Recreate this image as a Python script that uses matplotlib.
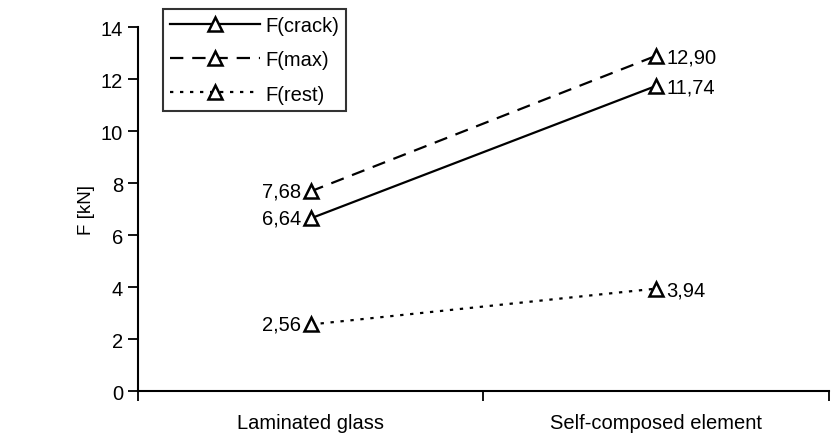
import matplotlib.pyplot as plt

plt.rcParams['font.family'] = ['Liberation Sans', 'DejaVu Sans']

categories = ['Laminated glass', 'Self-composed element']
f_crack = [6.64, 11.74]
f_max = [7.68, 12.90]
f_rest = [2.56, 3.94]

series = [
    ('F(crack)', f_crack, '-'),
    ('F(max)', f_max, (0, (6, 4))),
    ('F(rest)', f_rest, (0, (1.5, 3))),
]

FS = 14.5

fig = plt.figure(figsize=(8.35, 4.39), dpi=100)
ax = fig.add_axes([0.165, 0.107, 0.828, 0.829])

xs = [0.5, 1.5]
for name, vals, ls in series:
    ax.plot(xs, vals, linestyle=ls, color='black', linewidth=1.6,
            marker='^', markersize=10, markerfacecolor='white',
            markeredgecolor='black', markeredgewidth=1.8, label=name)
    ax.annotate(f'{vals[0]:.2f}'.replace('.', ','), (xs[0], vals[0]),
                xytext=(-7, 0), textcoords='offset points',
                ha='right', va='center', fontsize=FS)
    ax.annotate(f'{vals[1]:.2f}'.replace('.', ','), (xs[1], vals[1]),
                xytext=(7, -1), textcoords='offset points',
                ha='left', va='center', fontsize=FS)

ax.set_xlim(0, 2)
ax.set_ylim(0, 14)
ax.set_yticks(range(0, 15, 2))
ax.set_xticks([0, 1, 2])
ax.set_xticklabels([])
ax.set_xticks(xs, minor=True)
ax.set_xticklabels(categories, minor=True, fontsize=FS)
ax.tick_params(axis='x', which='minor', length=0, pad=16)
ax.tick_params(axis='both', which='major', direction='out', length=7, width=1.3, labelsize=FS)
ax.set_ylabel('F [kN]', fontsize=FS - 1, labelpad=4)
for s in ['top', 'right']:
    ax.spines[s].set_visible(False)
for s in ['left', 'bottom']:
    ax.spines[s].set_linewidth(1.5)

leg = ax.legend(loc='upper left', bbox_to_anchor=(0.036, 1.049), fontsize=FS,
                frameon=True, fancybox=False, edgecolor='black',
                handlelength=4.5, borderpad=0.35, labelspacing=0.75,
                handletextpad=0.25, borderaxespad=0)
leg.get_frame().set_linewidth(1.5)

fig.savefig('out.png', dpi=100)
